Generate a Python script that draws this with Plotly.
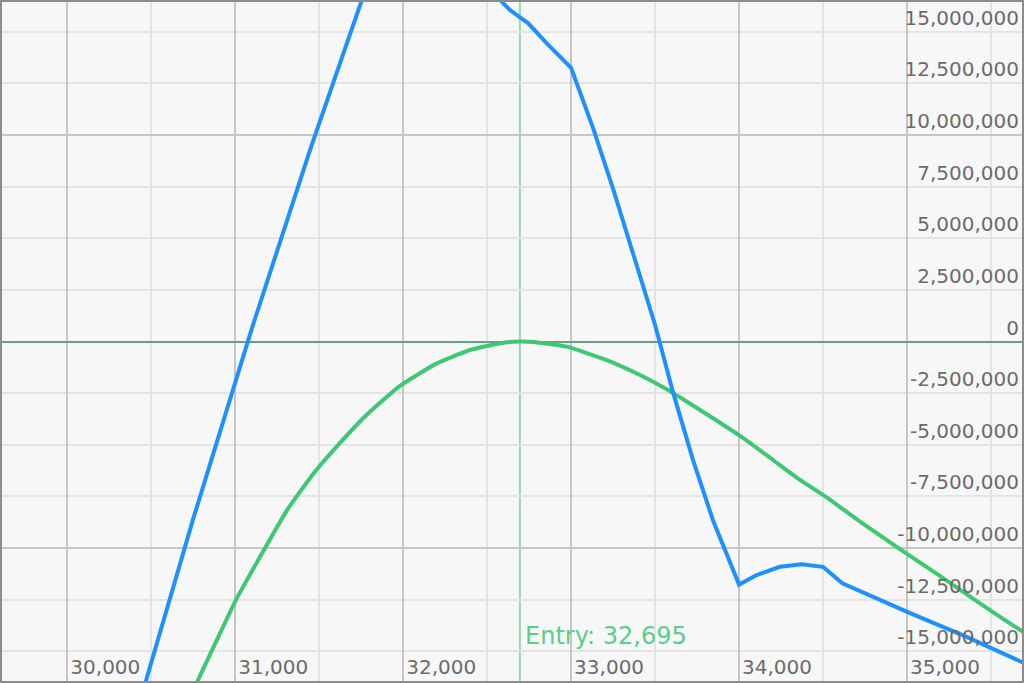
import plotly.graph_objects as go

# ---- data ----
ENTRY_PRICE = 32695

EXPIRY_X = [30400, 30750, 31100, 31450, 31800, 32000, 32400, 32576, 32636,
            32745, 32855, 33000, 33132, 33251, 33370, 33500, 33608, 33727, 33847,
            34000, 34105, 34244, 34373, 34500, 34615, 34998, 35355, 35697, 35800]
EXPIRY_PNL = [-18.33e6, -8.58e6, 0.66e6, 9.39e6, 17.62e6, 21.0e6, 18.0e6, 16.54e6, 16.05e6,
              15.41e6, 14.44e6, 13.25e6, 10.31e6, 7.37e6, 4.26e6, 0.80e6, -2.49e6, -5.77e6, -8.71e6,
              -11.77e6, -11.31e6, -10.91e6, -10.79e6, -10.91e6, -11.71e6, -13.08e6, -14.30e6, -15.58e6, -15.95e6]

CURRENT_X = [30700, 30770, 30890, 31009, 31167, 31306, 31465, 31604, 31783, 31981,
             32200, 32398, 32596, 32695, 32773, 32974, 33212, 33410, 33549, 33768,
             34025, 34204, 34363, 34522, 34720, 34958, 35196, 35514, 35689, 35800]
CURRENT_PNL = [-17.8e6, -16.54e6, -14.46e6, -12.44e6, -10.15e6, -8.2e6, -6.4e6, -5.09e6, -3.55e6, -2.15e6,
               -1.06e6, -0.41e6, -0.06e6, 0.0, -0.02e6, -0.25e6, -0.90e6, -1.62e6, -2.22e6, -3.32e6,
               -4.68e6, -5.75e6, -6.70e6, -7.55e6, -8.72e6, -10.05e6, -11.35e6, -13.12e6, -14.05e6, -14.67e6]

X_TICK_VALS = [30000, 31000, 32000, 33000, 34000, 35000]
X_TICK_TEXT = ["30,000", "31,000", "32,000", "33,000", "34,000", "35,000"]
Y_TICK_VALS = [15e6, 12.5e6, 10e6, 7.5e6, 5e6, 2.5e6, 0, -2.5e6, -5e6, -7.5e6, -10e6, -12.5e6, -15e6]
Y_TICK_TEXT = ["15,000,000", "12,500,000", "10,000,000", "7,500,000", "5,000,000", "2,500,000", "0",
               "-2,500,000", "-5,000,000", "-7,500,000", "-10,000,000", "-12,500,000", "-15,000,000"]
Y_MAJOR_GRID = [-10e6, 10e6]

X_RANGE = [29611, 35685]
Y_RANGE = [-16.44e6, 16.44e6]

FONT = "DejaVu Sans"
TICK_COLOR = "#6b6b6b"
MINOR_GRID = "#e4e4e4"
MAJOR_GRID = "#c6c6c6"
BORDER = "#8c8c8c"

fig = go.Figure()
fig.add_trace(go.Scatter(x=CURRENT_X, y=CURRENT_PNL, mode="lines",
                         line=dict(color="#3ec873", width=4, shape="spline", smoothing=0.5),
                         showlegend=False, hoverinfo="skip"))
fig.add_trace(go.Scatter(x=EXPIRY_X, y=EXPIRY_PNL, mode="lines",
                         line=dict(color="#1e90ff", width=4), showlegend=False, hoverinfo="skip"))
# empty traces that only make the label axes exist, each paired with a bare overlay axis
fig.add_trace(go.Scatter(x=[], y=[], xaxis="x2", yaxis="y3", mode="lines", showlegend=False))
fig.add_trace(go.Scatter(x=[], y=[], xaxis="x3", yaxis="y2", mode="lines", showlegend=False))

fig.add_shape(type="line", xref="x", yref="paper", x0=ENTRY_PRICE, x1=ENTRY_PRICE, y0=0, y1=1,
              line=dict(color="#92dcae", width=2), layer="between")
fig.add_annotation(x=ENTRY_PRICE, y=-14.26e6, xref="x", yref="y", text=f"Entry: {ENTRY_PRICE:,}",
                   showarrow=False, xanchor="left", yanchor="middle", xshift=3,
                   font=dict(family=FONT, size=24, color="#5acd88"))

bare = dict(showticklabels=False, ticks="", showgrid=False, zeroline=False, showline=False)

fig.update_layout(
    width=1024, height=683,
    margin=dict(l=2, r=2, t=2, b=2, pad=0, autoexpand=False),
    paper_bgcolor="#f7f7f7", plot_bgcolor="#f7f7f7",
    font=dict(family=FONT, size=20, color=TICK_COLOR),
    showlegend=False,
    # primary x: grid (dark every 1000, light every 500) and border
    xaxis=dict(range=X_RANGE, tickmode="array", tickvals=X_TICK_VALS, showticklabels=False, ticks="",
               showgrid=True, gridcolor=MAJOR_GRID, gridwidth=2,
               minor=dict(dtick=500, tick0=0, showgrid=True, gridcolor=MINOR_GRID, gridwidth=2),
               zeroline=False, showline=True, linecolor=BORDER, linewidth=2, mirror=True),
    # overlay x (same scale): tick labels
    xaxis2=dict(range=X_RANGE, overlaying="x", anchor="y3", side="bottom",
                tickmode="array", tickvals=X_TICK_VALS, ticktext=X_TICK_TEXT,
                ticklabelposition="inside right", ticks="", ticklabelshift=3, ticklabelstandoff=-3,
                showgrid=False, zeroline=False, showline=False,
                tickfont=dict(family=FONT, size=20, color=TICK_COLOR)),
    xaxis3=dict(range=X_RANGE, overlaying="x", anchor="y2", **bare),
    # primary y: grid (dark at +/-10M, light every 2.5M), zero line, border
    yaxis=dict(range=Y_RANGE, side="right", tickmode="array", tickvals=Y_MAJOR_GRID,
               showticklabels=False, ticks="",
               showgrid=True, gridcolor=MAJOR_GRID, gridwidth=2,
               minor=dict(dtick=2.5e6, tick0=0, showgrid=True, gridcolor=MINOR_GRID, gridwidth=2),
               zeroline=True, zerolinecolor="#5fa384", zerolinewidth=2,
               showline=True, linecolor=BORDER, linewidth=2, mirror=True),
    # overlay y (same scale): tick labels
    yaxis2=dict(range=Y_RANGE, overlaying="y", anchor="x3", side="right", tickmode="array",
                tickvals=Y_TICK_VALS, ticktext=Y_TICK_TEXT,
                ticklabelposition="inside top", ticks="", showgrid=False,
                zeroline=False, showline=False,
                tickfont=dict(family=FONT, size=20, color=TICK_COLOR)),
    yaxis3=dict(range=Y_RANGE, overlaying="y", anchor="x2", **bare),
)

fig.write_html("out.html", config={"displayModeBar": False},
               post_script="document.body.style.margin='0';document.body.style.overflow='hidden';")
